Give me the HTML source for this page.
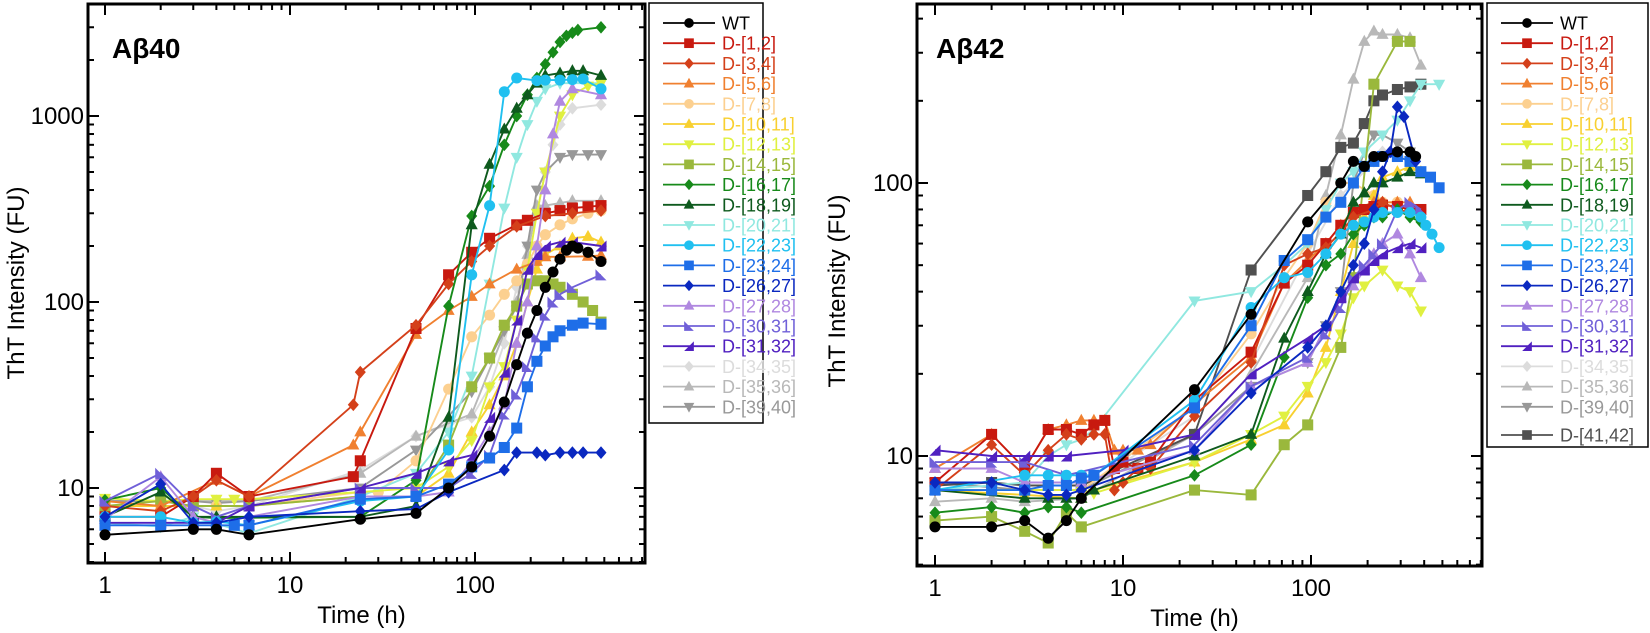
<!DOCTYPE html>
<html><head><meta charset="utf-8"><style>
html,body{margin:0;padding:0;background:#fff;width:1650px;height:633px;overflow:hidden}
svg{display:block;font-family:"Liberation Sans",Arial,sans-serif}
</style></head><body>
<svg id="s" width="1650" height="633" viewBox="0 0 1650 633" xmlns="http://www.w3.org/2000/svg"></svg>
<script>
const S=document.getElementById('s');let out='';
const C={WT:'#000000',a:'#c8190f',b:'#d4401a',c:'#f08030',d:'#fcd090',e:'#f8d030',f:'#e0f040',g:'#9ab83c',h:'#178a1a',i:'#0e5a1e',j:'#90e8e0',k:'#20c0f0',l:'#1e6ee8',m:'#0a28c0',n:'#b088e0',o:'#7060d8',p:'#5020c0',q:'#dcdcdc',r:'#b8b8b8',s:'#989898',t:'#505050'};
const M={WT:'o',a:'s',b:'d',c:'^',d:'o',e:'^',f:'v',g:'s',h:'d',i:'^',j:'v',k:'o',l:'s',m:'d',n:'^',o:'>',p:'<',q:'d',r:'^',s:'v',t:'s'};
const N={WT:'WT',a:'D-[1,2]',b:'D-[3,4]',c:'D-[5,6]',d:'D-[7,8]',e:'D-[10,11]',f:'D-[12,13]',g:'D-[14,15]',h:'D-[16,17]',i:'D-[18,19]',j:'D-[20,21]',k:'D-[22,23]',l:'D-[23,24]',m:'D-[26,27]',n:'D-[27,28]',o:'D-[30,31]',p:'D-[31,32]',q:'D-[34,35]',r:'D-[35,36]',s:'D-[39,40]',t:'D-[41,42]'};
function mk(x,y,t,c,sz){sz=sz||1;let r=4.6*sz;
 if(t==='o')return `<circle cx="${x}" cy="${y}" r="${r}" fill="${c}"/>`;
 if(t==='s')return `<rect x="${x-r}" y="${y-r}" width="${2*r}" height="${2*r}" fill="${c}"/>`;
 if(t==='d')return `<polygon points="${x},${y-r*1.15} ${x+r},${y} ${x},${y+r*1.15} ${x-r},${y}" fill="${c}"/>`;
 if(t==='^')return `<polygon points="${x},${y-r*1.2} ${x+r*1.1},${y+r*0.8} ${x-r*1.1},${y+r*0.8}" fill="${c}"/>`;
 if(t==='v')return `<polygon points="${x},${y+r*1.2} ${x+r*1.1},${y-r*0.8} ${x-r*1.1},${y-r*0.8}" fill="${c}"/>`;
 if(t==='>')return `<polygon points="${x-r},${y-r} ${x+r},${y+r} ${x-r},${y+r}" fill="${c}"/>`;
 if(t==='<')return `<polygon points="${x+r},${y-r} ${x+r},${y+r} ${x-r},${y+r}" fill="${c}"/>`;}
function axes(x0,x1,y0,y1,X,Y,ymin,ymax,xmax,ylabs){
 let g='';
 for(let d=0;d<=3;d++)for(let k=1;k<10;k++){let t=k*Math.pow(10,d);if(t>xmax)break;if(t<0.8)continue;let x=X(t),L=k===1?11:6;
  g+=`<line x1="${x}" y1="${y1}" x2="${x}" y2="${y1-L}" stroke="#000" stroke-width="2"/><line x1="${x}" y1="${y0}" x2="${x}" y2="${y0+L}" stroke="#000" stroke-width="2"/>`;}
 for(let d=0;d<=3;d++)for(let k=1;k<10;k++){let v=k*Math.pow(10,d);if(v<ymin||v>ymax)continue;let y=Y(v),L=k===1?11:6;
  g+=`<line x1="${x0}" y1="${y}" x2="${x0+L}" y2="${y}" stroke="#000" stroke-width="2"/><line x1="${x1}" y1="${y}" x2="${x1-L}" y2="${y}" stroke="#000" stroke-width="2"/>`;}
 g+=`<rect x="${x0}" y="${y0}" width="${x1-x0}" height="${y1-y0}" fill="none" stroke="#000" stroke-width="3"/>`;
 [1,10,100].forEach(t=>g+=`<text x="${X(t)}" y="${y1+30}" font-size="24" text-anchor="middle">${t}</text>`);
 ylabs.forEach(v=>g+=`<text x="${x0-4}" y="${Y(v)+8}" font-size="24" text-anchor="end">${v}</text>`);
 g+=`<text x="${(x0+x1)/2-5}" y="${y1+60}" font-size="24" text-anchor="middle">Time (h)</text>`;
 return g;}
function series(D,X,Y,order){let g='';
 order.forEach(k=>{const p=D[k];if(!p)return;const pts=p.map(q=>[X(q[0]).toFixed(1),Y(q[1]).toFixed(1)]);
  g+=`<polyline points="${pts.map(a=>a.join(',')).join(' ')}" fill="none" stroke="${C[k]}" stroke-width="1.9"/>`;
  pts.forEach(a=>g+=mk(+a[0],+a[1],M[k],C[k],1.2));});return g;}
function legend(x0,y0,x1,y1,keys){let g=`<rect x="${x0}" y="${y0}" width="${x1-x0}" height="${y1-y0}" fill="#fff" stroke="#000" stroke-width="1.5"/>`;
 keys.forEach((k,i)=>{let y=y0+20+i*20.2+(k==='t'?8:0);
  g+=`<line x1="${x0+14}" y1="${y}" x2="${x0+66}" y2="${y}" stroke="${C[k]}" stroke-width="1.8"/>`+mk(x0+40,y,M[k],C[k],1.05)+
  `<text x="${x0+73}" y="${y+6.5}" font-size="18" fill="${C[k]}">${N[k]}</text>`;});return g;}
const X1=t=>105+185*Math.log10(t),Y1=v=>488-186*(Math.log10(v)-1);
const L={
WT:[[1,5.6],[3,6],[4,6],[6,5.6],[24,6.8],[48,7.3],[72,10],[96,13],[120,19],[144,29],[168,46],[192,68],[216,90],[240,120],[264,145],[288,170],[312,190],[336,200],[360,195],[408,185],[480,165]],
a:[[1,7],[2,7],[3,9],[4,12],[6,9],[22,11.5],[24,14],[48,72],[72,140],[96,185],[120,220],[168,260],[192,275],[240,300],[288,310],[336,320],[408,325],[480,330]],
b:[[1,8],[2,7.5],[3,9],[4,11],[6,9],[22,28],[24,42],[48,75],[72,125],[96,165],[120,200],[168,255],[240,290],[336,300],[480,310]],
c:[[1,8.5],[2,8],[4,11],[6,9],[22,17],[24,20],[48,67],[72,90],[96,107],[120,125],[168,150],[216,165],[240,175],[288,175],[408,176],[480,178]],
d:[[1,8],[2,8],[3,8],[4,8],[6,8],[24,9.5],[30,9.5],[48,14],[72,34],[96,65],[120,85],[144,110],[168,130],[192,160],[216,200],[240,230],[288,260],[336,280],[408,300],[480,310]],
e:[[1,8],[2,8],[3,8],[4,8],[6,8],[24,9],[48,9],[72,12],[96,20],[120,28],[144,40],[168,60],[192,100],[216,150],[240,180],[288,200],[336,220],[408,225],[480,210]],
f:[[1,8.8],[2,8.5],[3,8.7],[4,8.7],[5,8.7],[6,8.7],[24,9.5],[48,10],[72,13],[96,18],[120,35],[144,45],[168,80],[192,150],[216,300],[240,500],[288,1000],[336,1300],[408,1450],[480,1500]],
g:[[1,8],[2,8.5],[3,8],[6,8],[24,9],[48,9],[72,17],[96,35],[120,50],[144,75],[168,95],[192,125],[216,130],[240,130],[264,125],[288,120],[336,110],[384,100],[432,90],[480,78]],
h:[[1,8.6],[2,10],[3,7],[4,6.9],[24,7],[48,11],[72,95],[96,290],[120,420],[144,700],[168,1000],[192,1300],[216,1600],[240,1900],[264,2200],[288,2500],[312,2700],[336,2800],[360,2900],[480,3000]],
i:[[1,7],[2,9.5],[3,7],[4,7],[24,7],[48,8],[72,24],[96,260],[120,550],[144,850],[168,1100],[192,1300],[216,1500],[240,1650],[288,1700],[336,1750],[384,1750],[480,1650]],
j:[[1,6.5],[2,6.2],[3,7],[6,5.7],[24,9],[48,12],[72,20],[96,40],[120,125],[144,320],[168,600],[192,900],[216,1200],[240,1400],[288,1500],[480,1500]],
k:[[1,7],[2,7],[3,6.5],[4,6.6],[6,6.3],[24,8.5],[48,9],[72,16],[96,140],[120,330],[144,1350],[168,1600],[216,1550],[240,1560],[288,1560],[336,1570],[384,1580],[480,1400]],
l:[[1,6.3],[2,6.3],[4,6.3],[5,6.3],[6,6.3],[24,8.7],[48,9],[72,10.5],[96,13],[120,14.5],[144,16.5],[168,21],[192,35],[216,48],[240,58],[264,65],[288,70],[336,75],[384,77],[480,76]],
m:[[1,7],[2,10.5],[3,6.5],[4,6.5],[6,7],[24,7.5],[48,7.7],[72,9.5],[144,12.5],[168,15.5],[216,15.5],[240,15],[288,15.5],[336,15.5],[384,15.5],[480,15.5]],
n:[[1,6.8],[2,11.5],[3,7],[4,6.5],[6,7],[24,9],[48,9],[72,9.5],[96,14],[120,20],[144,28],[168,60],[192,100],[216,200],[240,400],[264,800],[288,1200],[336,1400],[480,1300]],
o:[[1,8.5],[2,12],[3,8],[4,7],[6,8],[24,10],[48,10],[72,10],[96,12],[120,15],[144,25],[168,32],[192,45],[216,65],[240,85],[264,100],[288,110],[336,120],[480,140]],
p:[[1,6.5],[2,6.5],[3,6.5],[4,6.5],[6,8],[24,10],[48,12],[72,14],[96,15],[120,24],[144,42],[168,80],[192,150],[216,180],[240,200],[288,210],[336,210],[480,200]],
q:[[1,8],[2,8],[3,8],[4,7.5],[6,8],[24,12.5],[48,19],[72,22],[96,24],[120,35],[144,60],[168,120],[192,200],[216,300],[240,500],[264,700],[288,900],[336,1100],[480,1150]],
r:[[1,8.5],[2,8.5],[3,8.5],[4,8.5],[6,8.5],[24,12],[48,19],[96,25],[168,100],[192,180],[216,330],[240,330],[288,340],[336,350],[480,350]],
s:[[1,8.5],[3,8.5],[4,8.3],[6,8.5],[24,10],[48,16],[96,33],[120,50],[144,70],[168,95],[192,200],[216,400],[240,500],[288,600],[336,620],[408,620],[480,620]]};
const ordL=['q','r','s','d','j','e','f','g','c','a','b','h','i','n','o','p','k','l','m','WT'];
out+=series(L,X1,Y1,ordL);
out+=axes(88,645,4,563,X1,Y1,4,4000,830,[1000,100,10]);
out+=`<text x="112" y="58" font-size="28" font-weight="bold">Aβ40</text>`;
out+=`<text transform="translate(24,283) rotate(-90)" font-size="24" text-anchor="middle">ThT Intensity (FU)</text>`;
out+=legend(649,3,763,423,['WT','a','b','c','d','e','f','g','h','i','j','k','l','m','n','o','p','q','r','s']);
const X2=t=>935+188*Math.log10(t),Y2=v=>456-273*(Math.log10(v)-1);
const R={
WT:[[1,5.5],[2,5.5],[3,5.8],[4,5],[5,5.8],[6,7],[24,17.5],[48,33],[96,72],[144,100],[168,120],[192,115],[216,125],[240,125],[288,130],[336,130],[360,125]],
a:[[1,8],[2,12],[3,9],[4,12.5],[5,12.5],[6,12],[7,13],[8,13.5],[9,9],[10,9.5],[12,9],[14,9.5],[24,16],[48,24],[72,43],[96,50],[120,60],[144,70],[168,78],[192,80],[216,82],[240,83],[288,82],[336,80],[384,80]],
b:[[1,7.5],[2,11],[3,8.5],[4,10.5],[5,12],[6,11.5],[7,12],[8,12],[9,7.5],[10,8],[12,9],[14,9],[24,14],[48,22],[72,50],[96,55],[120,58],[144,66],[168,75],[216,80],[240,85],[288,80],[336,78]],
c:[[1,9],[2,12],[3,9],[4,12.5],[5,13],[6,13.5],[7,13.5],[8,13.5],[9,10.5],[10,10.5],[12,10.5],[14,11],[24,15.5],[48,23],[72,43],[96,52],[120,60],[144,70],[168,80],[216,85],[240,85],[288,85],[336,85]],
d:[[1,7.5],[2,7.5],[3,7.5],[6,7.5],[24,15],[48,28],[72,45],[96,60],[120,85],[144,100],[168,100],[216,90],[240,85],[288,85],[336,80],[384,80]],
e:[[1,7.5],[3,7.2],[6,7],[7,7.5],[24,9.5],[48,11.5],[72,13],[96,17],[120,25],[144,40],[168,60],[192,75],[216,90],[240,105],[288,110],[336,115],[384,110]],
f:[[1,7.5],[3,7.5],[6,7.5],[7,7.3],[24,9.5],[48,12],[72,14],[96,18],[120,22],[144,28],[168,38],[192,42],[240,48],[288,42],[336,40],[384,34]],
g:[[1,5.8],[2,6],[3,5.3],[4,4.8],[5,6.2],[6,5.5],[24,7.5],[48,7.2],[72,11],[96,13],[144,25],[168,45],[216,230],[288,330],[336,330]],
h:[[1,6.2],[2,6.5],[3,6.2],[4,6.5],[5,6.5],[6,6.2],[24,8.5],[48,11],[72,23],[96,38],[120,50],[144,55],[168,65],[192,70],[216,75],[240,75],[288,80],[336,75],[384,72]],
i:[[1,7.5],[3,7],[4,7],[5,7],[6,7],[7,7.5],[24,10],[48,12],[72,27],[96,40],[120,55],[144,65],[168,85],[192,92],[216,100],[240,100],[288,105],[336,110],[384,108]],
j:[[1,7.5],[3,8],[4,10],[5,11],[6,11.5],[7,12.5],[24,37],[48,40],[72,50],[96,60],[120,80],[144,100],[168,110],[192,130],[240,150],[288,170],[336,200],[384,230],[480,230]],
k:[[1,7.5],[3,8.5],[4,8.5],[5,8.5],[6,8.5],[7,8.5],[24,16],[48,35],[72,45],[96,47],[120,55],[144,65],[168,70],[192,72],[216,75],[240,78],[288,78],[336,78],[384,75],[408,70],[440,65],[480,58]],
l:[[1,7.5],[2,7.5],[3,7.5],[4,7.8],[5,7.8],[6,8.3],[7,8.5],[24,15],[48,30],[72,52],[96,62],[120,75],[144,85],[168,100],[192,115],[216,120],[240,125],[288,125],[336,120],[384,110],[432,105],[480,96]],
m:[[1,8],[2,8],[3,7.5],[4,7.2],[5,7.2],[6,7.5],[24,10.5],[48,17],[96,25],[120,30],[144,40],[168,50],[192,60],[216,80],[240,110],[264,130],[288,190],[312,175],[360,120]],
n:[[1,9],[2,9],[3,8],[6,8],[24,10.5],[48,18],[96,22],[120,30],[144,38],[168,42],[192,48],[216,55],[240,60],[288,65],[336,55],[384,45]],
o:[[1,9.5],[2,9.5],[3,9.5],[5,8.5],[24,11],[48,18],[96,23],[120,28],[144,35],[168,45],[192,50],[216,55],[240,60],[288,80],[336,85],[384,80]],
p:[[1,10.5],[2,10],[3,10],[4,10],[5,10],[10,10.5],[24,12],[48,20],[96,27],[120,30],[144,38],[168,45],[192,48],[216,52],[240,55],[288,58],[336,60],[384,58]],
q:[[1,7.5],[3,7.5],[6,7.5],[24,14],[48,22],[96,55],[144,90],[168,100],[216,120],[240,130],[288,130],[336,120]],
r:[[1,6.8],[2,7],[3,6.8],[6,7],[24,12],[48,20],[96,45],[120,90],[144,150],[168,240],[192,330],[216,360],[240,350],[288,350],[336,340],[384,270]],
s:[[1,8],[3,7.5],[6,7.5],[24,12],[48,18],[96,22],[120,30],[144,40],[168,100],[192,130],[216,150],[240,150],[288,140],[336,130]],
t:[[1,7.8],[2,8],[3,7.8],[6,7.8],[24,12],[48,48],[96,90],[120,110],[144,135],[168,140],[192,165],[216,200],[240,210],[288,220],[336,225],[384,230]]};
const ordR=['q','r','s','t','d','j','e','f','g','c','a','b','h','i','n','o','p','k','l','m','WT'];
out+=series(R,X2,Y2,ordR);
out+=axes(917,1482,4,566,X2,Y2,4,460,810,[100,10]);
out+=`<text x="936" y="58" font-size="28" font-weight="bold">Aβ42</text>`;
out+=`<text transform="translate(845,291) rotate(-90)" font-size="24" text-anchor="middle">ThT Intensity (FU)</text>`;
out+=legend(1487,3,1648,447,['WT','a','b','c','d','e','f','g','h','i','j','k','l','m','n','o','p','q','r','s','t']);
S.innerHTML=out;
</script>
</body></html>
